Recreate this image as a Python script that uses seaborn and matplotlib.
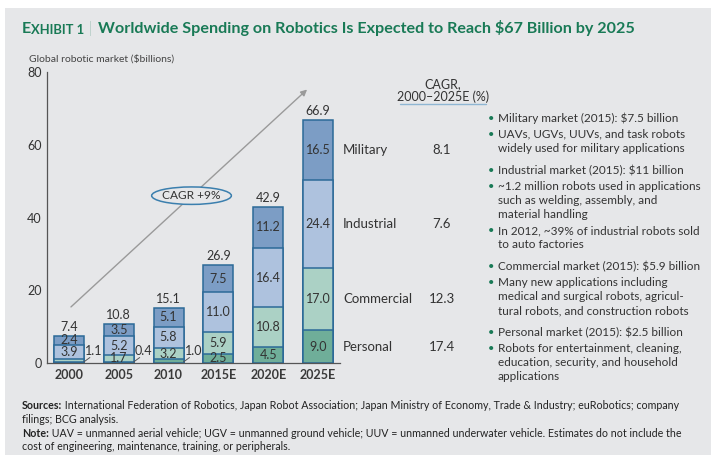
import numpy as np
import matplotlib.pyplot as plt
import seaborn as sns
import pandas as pd
from matplotlib.patches import Ellipse, Rectangle

# data ($ billions)
years = ["2000", "2005", "2010", "2015E", "2020E", "2025E"]
personal = [0.2, 0.4, 1.0, 2.5, 4.5, 9.0]
commercial = [0.9, 1.7, 3.2, 5.9, 10.8, 17.0]
industrial = [3.9, 5.2, 5.8, 11.0, 16.4, 24.4]
military = [2.4, 3.5, 5.1, 7.5, 11.2, 16.5]
segments = ["Personal", "Commercial", "Industrial", "Military"]
cagr = [17.4, 12.3, 7.6, 8.1]
outside_labels = ["1.1", "0.4", "1.0"]  # small bottom values written beside the first bars

colors = {"Personal": "#6fae99", "Commercial": "#abd1c5",
          "Industrial": "#aec2de", "Military": "#7c9dc5"}
edge = "#2c6a98"
bg = "#e6e7e9"
green = "#197a56"
txt = "#333333"

sns.set_theme(style="white")
plt.rcParams["font.family"] = ["Lato", "DejaVu Sans"]

df = pd.DataFrame({"year": years, "Personal": personal, "Commercial": commercial,
                   "Industrial": industrial, "Military": military})
cum = df[segments].cumsum(axis=1)
totals = cum["Military"]

W, H = 711, 455
fig = plt.figure(figsize=(W / 100, H / 100), dpi=100, facecolor="white")
fig.patches.append(Rectangle((5 / W, 0), 1, 1 - 8 / H, transform=fig.transFigure,
                             facecolor=bg, edgecolor="none", zorder=-10))


def fx(x):
    return x / W


def fy(y):
    return 1 - y / H


ax = fig.add_axes([fx(47), fy(363), (340 - 47) / W, (363 - 72) / H])
ax.set_facecolor(bg)

# stacked bars: draw cumulative heights from the top segment down
for seg in segments[::-1]:
    sns.barplot(x=df["year"], y=cum[seg], color=colors[seg], saturation=1,
                edgecolor=edge, linewidth=1.1, width=0.6, ax=ax)

ax.set_xlim(-0.44, 5.44)
ax.set_ylim(0, 80)
ax.set_yticks([0, 20, 40, 60, 80])
ax.set_xlabel("")
ax.set_ylabel("")
for s in ["top", "right"]:
    ax.spines[s].set_visible(False)
ax.spines["left"].set_color("#555555")
ax.spines["bottom"].set_color("#555555")
ax.spines["left"].set_linewidth(0.9)
ax.spines["bottom"].set_linewidth(0.9)
ax.tick_params(axis="both", length=0, labelsize=9, colors=txt, pad=4)
for lab in ax.get_xticklabels():
    lab.set_fontweight("bold")
    lab.set_color("#3a3a3a")

# segment labels
for i in range(len(years)):
    base = 0
    for seg in segments:
        v = df[seg][i]
        if v >= 1.5:
            ax.text(i, base + v / 2, f"{v:.1f}", ha="center", va="center",
                    fontsize=9, color=txt)
        base += v
    ax.text(i, totals[i] + 0.8, f"{totals[i]:.1f}", ha="center", va="bottom",
            fontsize=9, color=txt)

for i, lab in enumerate(outside_labels):
    ax.plot([i + 0.3, i + 0.42], [0.3, 1.5], color="#555555", lw=0.7)
    ax.text(i + 0.5, 3.2, lab, ha="center", va="center", fontsize=9, color=txt)

# growth arrow and CAGR callout
ax.annotate("", xy=(4.82, 75.7), xytext=(0.0, 14.9),
            arrowprops=dict(arrowstyle="-|>", color="#9a9a9a", lw=1, mutation_scale=9),
            annotation_clip=False)
ax.add_patch(Ellipse((2.46, 46.0), 1.6, 4.8, facecolor=bg, edgecolor="#3b7fae",
                     lw=1.1, zorder=5))
ax.text(2.46, 46.0, "CAGR +9%", ha="center", va="center", fontsize=8.6,
        color=txt, zorder=6)

# segment names and CAGR column
base = 0
for seg, c in zip(segments, cagr):
    v = df[seg][5]
    ax.text(5.5, base + v / 2, seg, ha="left", va="center", fontsize=9.5,
            color=txt, clip_on=False)
    ax.text(7.48, base + v / 2, f"{c:.1f}", ha="center", va="center",
            fontsize=9.5, color=txt, clip_on=False)
    base += v

fig.text(fx(443), fy(84), "CAGR,", ha="center", va="center", fontsize=9, color=txt)
fig.text(fx(443), fy(97), "2000–2025E (%)", ha="center", va="center", fontsize=9, color=txt)
fig.add_artist(plt.Line2D([fx(400), fx(486)], [fy(104), fy(104)], color="#8fb6d3", lw=1))

fig.text(fx(29), fy(59), "Global robotic market ($billions)", ha="left", va="center",
         fontsize=7.5, color="#444444")

# title
t1 = fig.text(fx(22), fy(33), "E", fontsize=11.6, fontweight="bold", color=green,
              va="baseline")
t2 = plt.annotate("XHIBIT 1", xy=(1, 0), xycoords=t1, fontsize=9.4,
                  fontweight="bold", color=green, va="bottom")
t3 = plt.annotate(" | ", xy=(1, 0), xycoords=t2, fontsize=11.6, color=green,
                  va="bottom", fontweight="light")
plt.annotate("Worldwide Spending on Robotics Is Expected to Reach $67 Billion by 2025",
             xy=(1, 0), xycoords=t3, fontsize=11.6, fontweight="bold", color=green,
             va="bottom")

# bullets on the right
bullets = [
    (118, True, "Military market (2015): $7.5 billion"),
    (134, True, "UAVs, UGVs, UUVs, and task robots"),
    (148, False, "widely used for military applications"),
    (171, True, "Industrial market (2015): $11 billion"),
    (187, True, "~1.2 million robots used in applications"),
    (201, False, "such as welding, assembly, and"),
    (215, False, "material handling"),
    (231, True, "In 2012, ~39% of industrial robots sold"),
    (245, False, "to auto factories"),
    (267, True, "Commercial market (2015): $5.9 billion"),
    (283, True, "Many new applications including"),
    (297, False, "medical and surgical robots, agricul-"),
    (311, False, "tural robots, and construction robots"),
    (333, True, "Personal market (2015): $2.5 billion"),
    (349, True, "Robots for entertainment, cleaning,"),
    (363, False, "education, security, and household"),
    (377, False, "applications"),
]
for y, dot, line in bullets:
    if dot:
        fig.text(fx(491), fy(y), "•", ha="center", va="center", fontsize=8, color=green)
    fig.text(fx(498), fy(y), line, ha="left", va="center", fontsize=8.5, color=txt)

# footer
fs = 7.7
s1 = fig.text(fx(22), fy(409), "Sources:", fontsize=fs, fontweight="bold",
              color="#222222", va="baseline")
plt.annotate(" International Federation of Robotics, Japan Robot Association; Japan Ministry "
             "of Economy, Trade & Industry; euRobotics; company",
             xy=(1, 0), xycoords=s1, fontsize=fs, color="#222222", va="bottom")
fig.text(fx(22), fy(423), "filings; BCG analysis.", fontsize=fs, color="#222222",
         va="baseline")
n1 = fig.text(fx(22), fy(437), "Note:", fontsize=fs, fontweight="bold",
              color="#222222", va="baseline")
plt.annotate(" UAV = unmanned aerial vehicle; UGV = unmanned ground vehicle; UUV = unmanned "
             "underwater vehicle. Estimates do not include the",
             xy=(1, 0), xycoords=n1, fontsize=fs, color="#222222", va="bottom")
fig.text(fx(22), fy(450), "cost of engineering, maintenance, training, or peripherals.",
         fontsize=fs, color="#222222", va="baseline")

fig.savefig("out.png", dpi=100, facecolor=fig.get_facecolor())
